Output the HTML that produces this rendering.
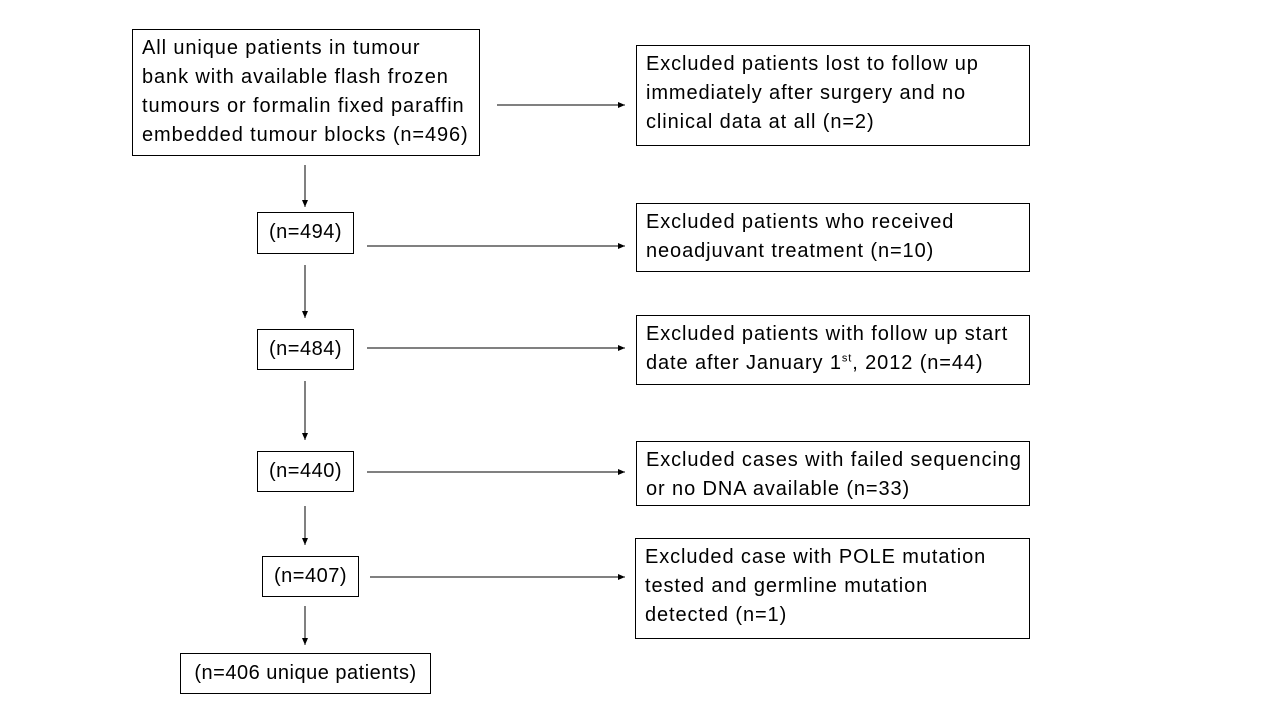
<!DOCTYPE html>
<html><head><meta charset="utf-8"><style>
body{margin:0;width:1280px;height:720px;background:#fff;position:relative;font-family:"Liberation Sans",sans-serif;overflow:hidden}
.b{position:absolute;border:1px solid #000;box-sizing:border-box;font-size:20px;line-height:29px;color:#000;white-space:nowrap;letter-spacing:0.9px}
.l{padding:4px 0 0 9px}
.c{text-align:center;padding-top:5px;letter-spacing:0.5px}
svg{position:absolute;left:0;top:0}
</style></head><body>
<svg width="1280" height="720">
<defs><marker id="a" markerWidth="8" markerHeight="8" refX="7" refY="4" orient="auto"><path d="M0,1 L7,4 L0,7 z" fill="#000"/></marker></defs>
<g stroke="#000" stroke-width="1" marker-end="url(#a)">
<line x1="497" y1="105" x2="625" y2="105"/>
<line x1="367" y1="246" x2="625" y2="246"/>
<line x1="367" y1="348" x2="625" y2="348"/>
<line x1="367" y1="472" x2="625" y2="472"/>
<line x1="370" y1="577" x2="625" y2="577"/>
<line x1="305" y1="165" x2="305" y2="207"/>
<line x1="305" y1="265" x2="305" y2="318"/>
<line x1="305" y1="381" x2="305" y2="440"/>
<line x1="305" y1="506" x2="305" y2="545"/>
<line x1="305" y1="606" x2="305" y2="645"/>
</g></svg>
<div class="b l" style="left:132px;top:29px;width:348px;height:127px;padding-left:9px">All unique patients in tumour<br>bank with available flash frozen<br>tumours or formalin fixed paraffin<br>embedded tumour blocks (n=496)</div>
<div class="b l" style="left:636px;top:45px;width:394px;height:101px">Excluded patients lost to follow up<br>immediately after surgery and no<br>clinical data at all (n=2)</div>
<div class="b c" style="left:257px;top:212px;width:97px;height:42px">(n=494)</div>
<div class="b l" style="left:636px;top:203px;width:394px;height:69px">Excluded patients who received<br>neoadjuvant treatment (n=10)</div>
<div class="b c" style="left:257px;top:329px;width:97px;height:41px">(n=484)</div>
<div class="b l" style="left:636px;top:315px;width:394px;height:70px">Excluded patients with follow up start<br>date after January 1<sup style="font-size:11px;line-height:0">st</sup>, 2012 (n=44)</div>
<div class="b c" style="left:257px;top:451px;width:97px;height:41px">(n=440)</div>
<div class="b l" style="left:636px;top:441px;width:394px;height:65px">Excluded cases with failed sequencing<br>or no DNA available (n=33)</div>
<div class="b c" style="left:262px;top:556px;width:97px;height:41px">(n=407)</div>
<div class="b l" style="left:635px;top:538px;width:395px;height:101px">Excluded case with POLE mutation<br>tested and germline mutation<br>detected (n=1)</div>
<div class="b c" style="left:180px;top:653px;width:251px;height:41px">(n=406 unique patients)</div>
</body></html>
